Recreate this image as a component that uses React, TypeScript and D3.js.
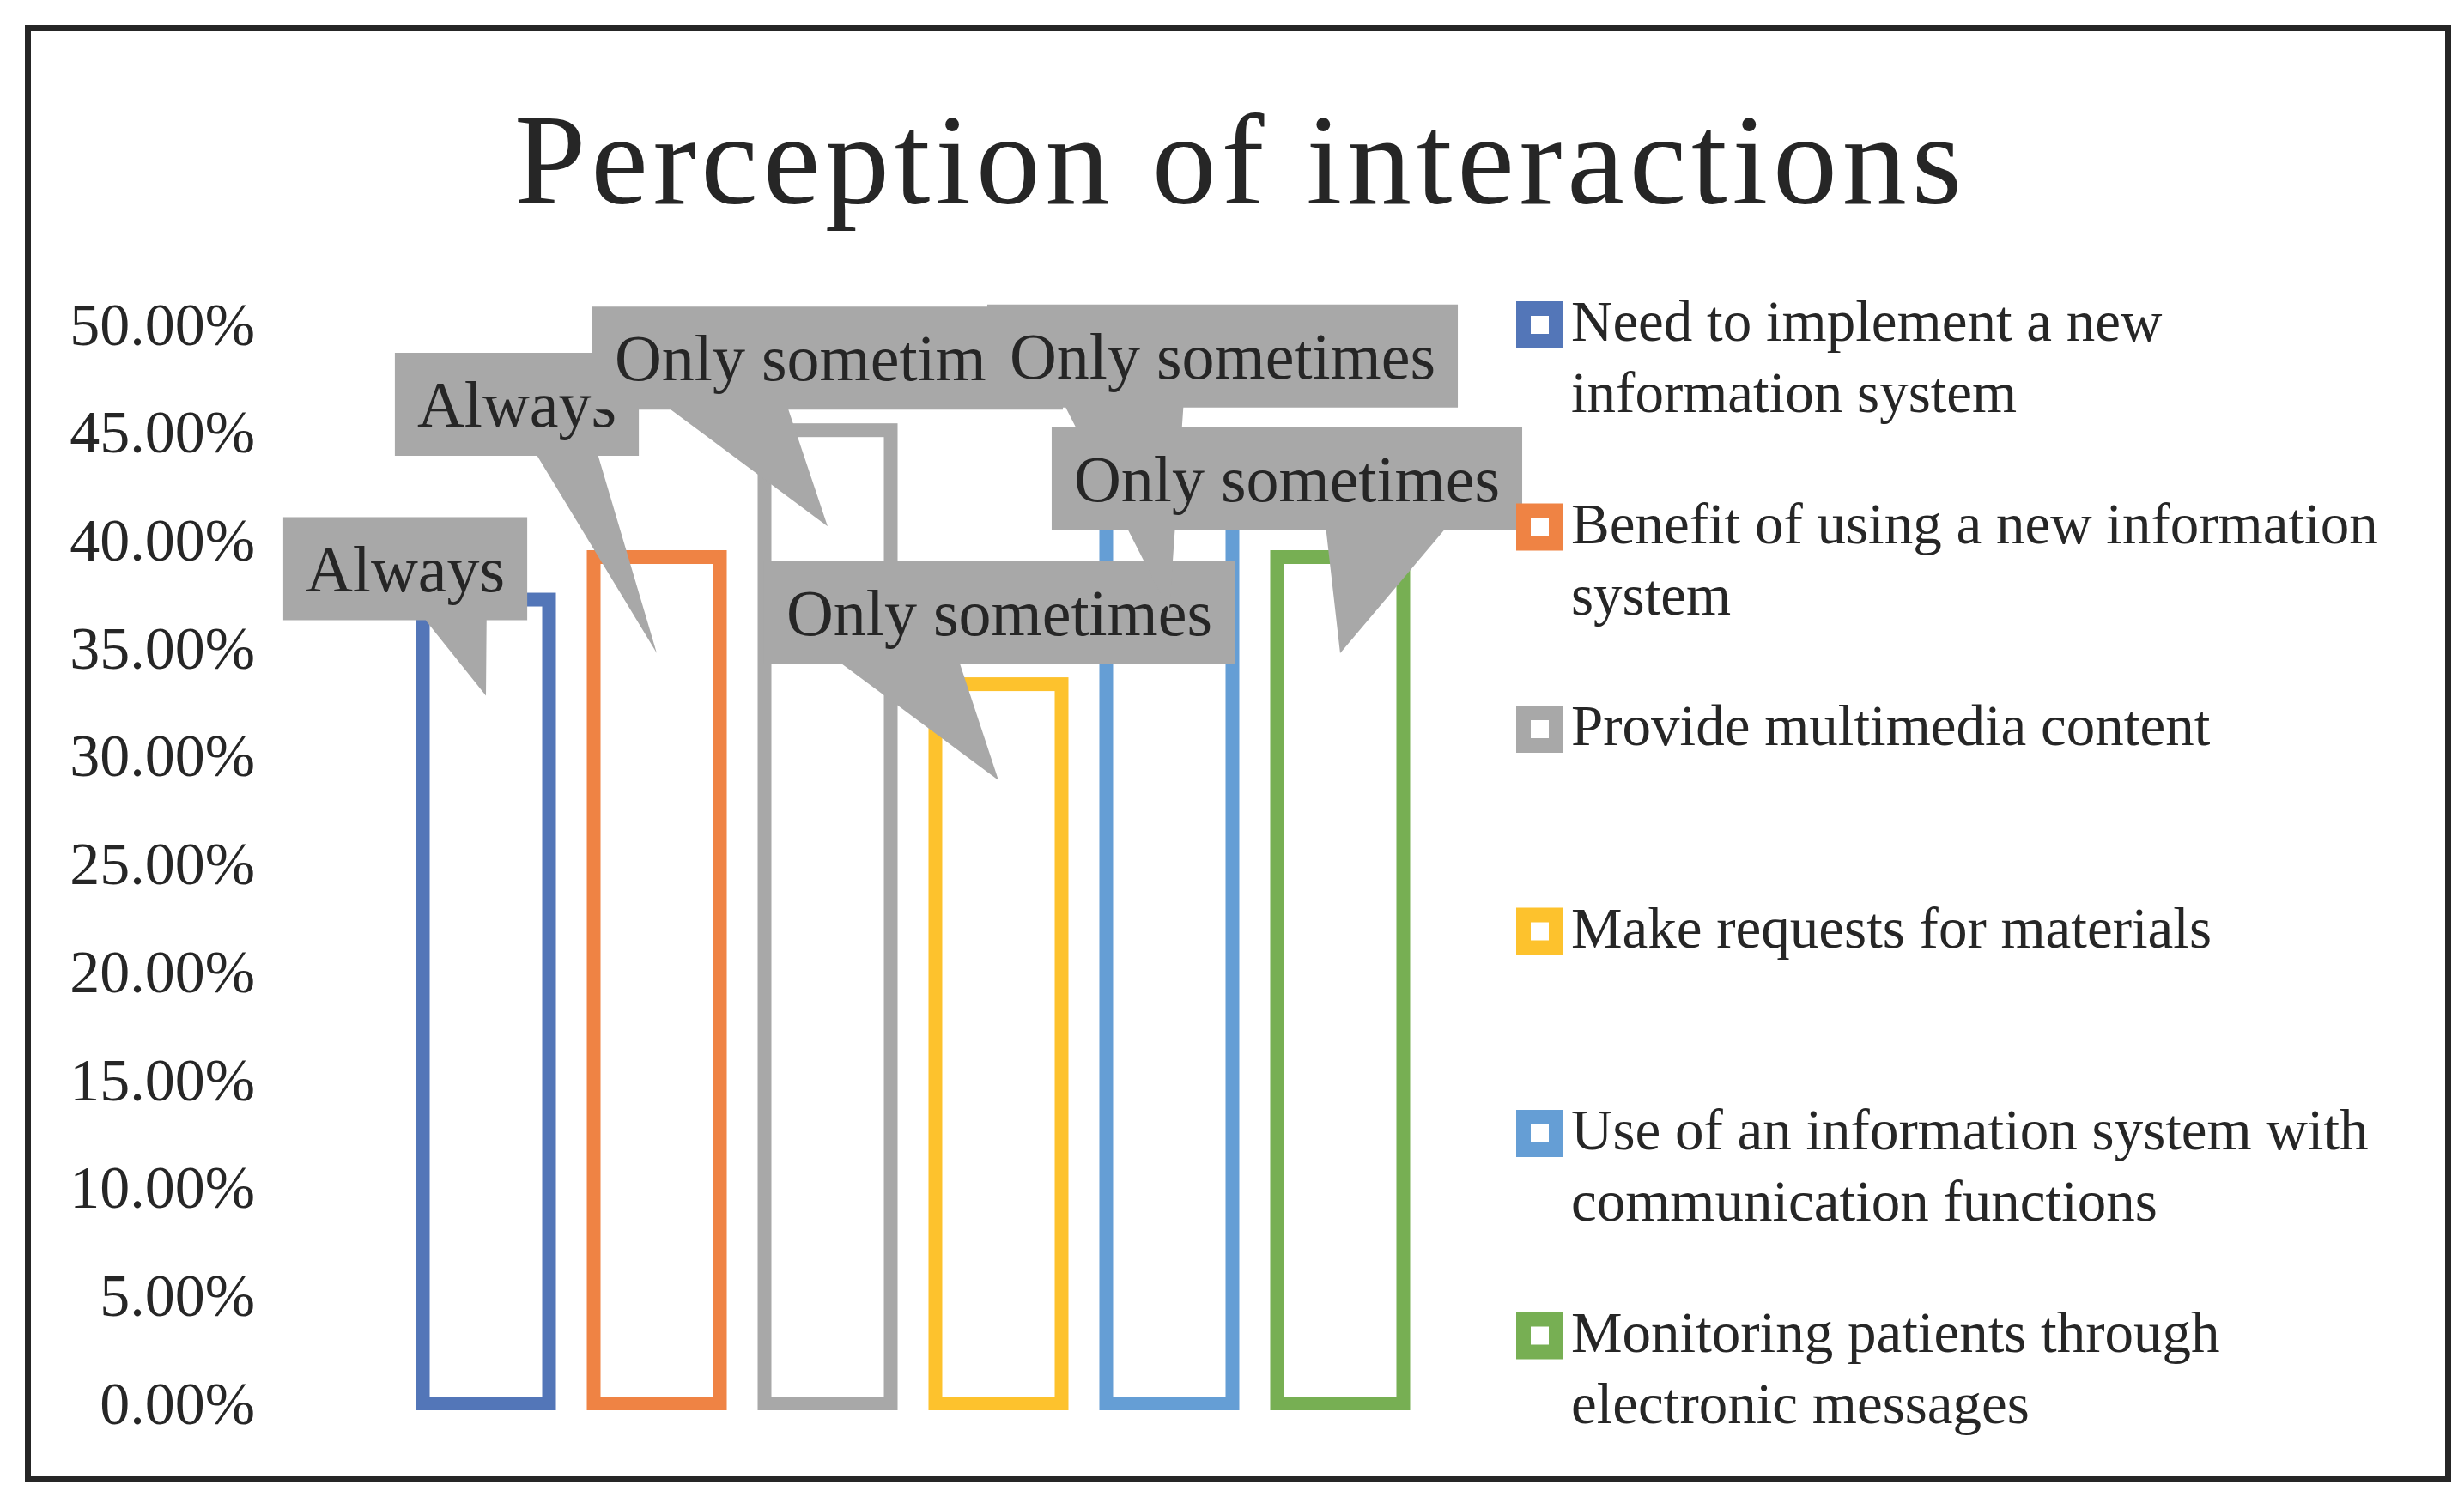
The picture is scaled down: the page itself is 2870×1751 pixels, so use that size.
import React, { useEffect, useRef } from 'react';
import * as d3 from 'd3';

// series (one bar each, single category)
const legendLabels = [
  ['Need to implement a new', 'information system'],
  ['Benefit of using a new information', 'system'],
  ['Provide multimedia content'],
  ['Make requests for materials'],
  ['Use of an information system with', 'communication functions'],
  ['Monitoring patients through', 'electronic messages'],
];
const seriesValues = [0.3725, 0.3922, 0.451, 0.3333, 0.4118, 0.3922];
const calloutLabels = ['Always', 'Always', 'Only sometimes', 'Only sometimes', 'Only sometimes', 'Only sometimes'];
const yTickValues = [0, 0.05, 0.1, 0.15, 0.2, 0.25, 0.3, 0.35, 0.4, 0.45, 0.5];

const seriesColors = ['#5376B8', '#EF8344', '#A8A8A8', '#FDC22D', '#659ED5', '#77AF53'];

// where each callout box sits, relative to the point its wedge aims at (px)
const calloutShift = [[-94, -148], [-163, -290], [0, -196], [1, -195], [62, -297], [-62, -203]];

const W = 2870;
const H = 1751;

const App = () => {
  const svgRef = useRef(null);

  useEffect(() => {
    const svg = d3.select(svgRef.current);
    svg.selectAll('*').remove();

    const font = '"Liberation Serif", "Times New Roman", serif';
    const ink = '#262626';

    svg.append('rect').attr('width', W).attr('height', H).attr('fill', '#fff');

    // outer frame
    svg.append('rect')
      .attr('x', 32.5).attr('y', 32.5)
      .attr('width', 2819).attr('height', 1691)
      .attr('fill', 'none').attr('stroke', ink).attr('stroke-width', 7);

    // title
    svg.append('text')
      .attr('x', 1442).attr('y', 237)
      .attr('text-anchor', 'middle')
      .attr('font-family', font).attr('font-size', 150)
      .attr('textLength', 1686).attr('lengthAdjust', 'spacing')
      .attr('fill', ink)
      .text('Perception of interactions');

    // scales
    const x = d3.scaleBand()
      .domain(d3.range(seriesValues.length))
      .range([466.5, 1660.5])
      .paddingInner(0.2613)
      .paddingOuter(0.1307);

    const y = d3.scaleLinear().domain([0, 0.5]).range([1635, 378]);

    // y axis labels only
    const yAxis = d3.axisLeft(y)
      .tickValues(yTickValues)
      .tickFormat(d3.format('.2%'))
      .tickSize(0)
      .tickPadding(0);
    const ag = svg.append('g')
      .attr('transform', 'translate(297,0)')
      .style('color', ink)
      .call(yAxis);
    ag.select('.domain').remove();
    ag.attr('font-family', font).attr('font-size', 70);
    ag.selectAll('text').attr('dy', '0.33em');

    // bars (outline only)
    svg.selectAll('.bar')
      .data(seriesValues)
      .enter().append('rect')
      .attr('class', 'bar')
      .attr('x', (d, i) => x(i))
      .attr('y', d => y(d))
      .attr('width', x.bandwidth())
      .attr('height', d => y(0) - y(d))
      .attr('fill', '#fff')
      .attr('stroke', (d, i) => seriesColors[i])
      .attr('stroke-width', 16);

    // data callouts, drawn in series order so later ones cover earlier ones
    seriesValues.forEach((v, i) => {
      const tx = x(i) + x.bandwidth() / 2;
      const ty = y(v) + 112;
      const cx = tx + calloutShift[i][0];
      const cy = ty + calloutShift[i][1];

      const g = svg.append('g');
      const shape = g.append('path').attr('fill', '#A8A8A8');
      const label = g.append('text')
        .attr('x', cx).attr('y', cy + 26)
        .attr('text-anchor', 'middle')
        .attr('font-family', font).attr('font-size', 76)
        .attr('fill', ink)
        .text(calloutLabels[i]);

      const w = label.node().getComputedTextLength() + 52;
      const h = 120;
      const l = cx - w / 2, r = cx + w / 2, t = cy - h / 2, b = cy + h / 2;
      const xa = tx > cx ? l + w * 7 / 12 : l + w * 2 / 12;
      const xb = tx > cx ? l + w * 10 / 12 : l + w * 5 / 12;
      shape.attr('d', `M${l},${t}H${r}V${b}H${xb}L${tx},${ty}L${xa},${b}H${l}Z`);
    });

    // legend
    const legend = svg.append('g');
    legendLabels.forEach((lines, i) => {
      const cy = 378.5 + i * 235.5;
      legend.append('rect')
        .attr('x', 1774.5).attr('y', cy - 19)
        .attr('width', 38).attr('height', 38)
        .attr('fill', '#fff')
        .attr('stroke', seriesColors[i])
        .attr('stroke-width', 17);
      lines.forEach((line, k) => {
        legend.append('text')
          .attr('x', 1830).attr('y', cy + 18.5 + k * 83)
          .attr('font-family', font).attr('font-size', 67)
          .attr('fill', ink)
          .text(line);
      });
    });
  }, []);

  return (
    <svg
      ref={svgRef}
      width={W}
      height={H}
      style={{ position: 'absolute', left: 0, top: 0, display: 'block' }}
    />
  );
};

export default App;
